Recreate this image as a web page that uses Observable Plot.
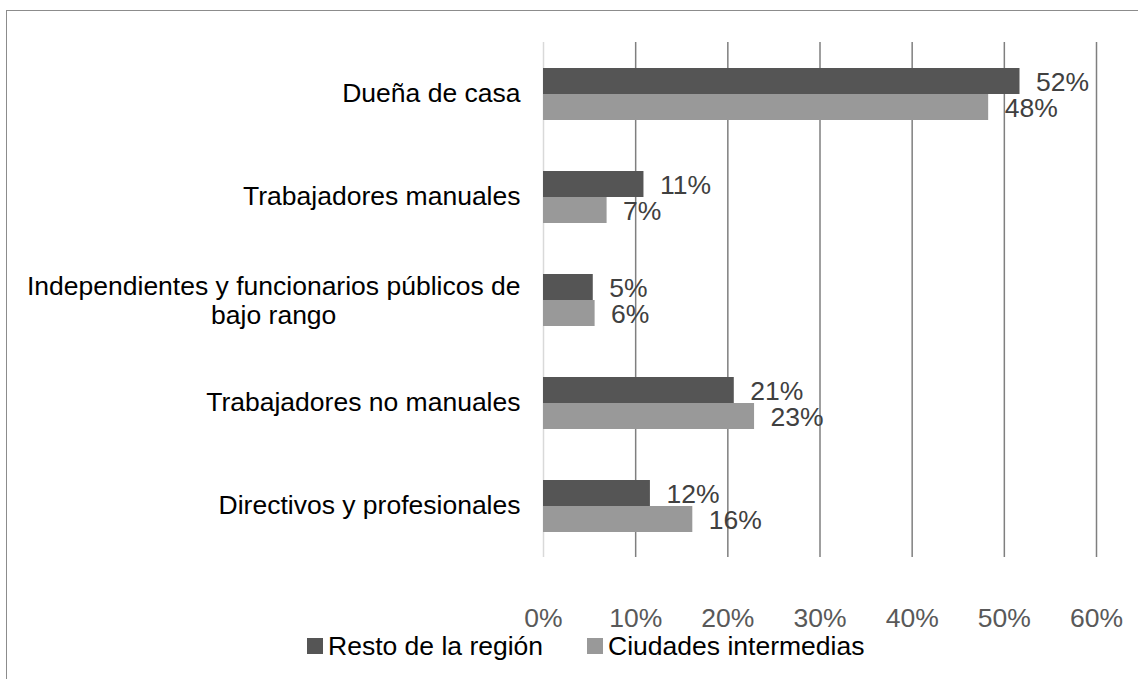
<!DOCTYPE html>
<html>
<head>
<meta charset="utf-8">
<script src="https://cdn.jsdelivr.net/npm/d3@7"></script>
<script src="https://cdn.jsdelivr.net/npm/@observablehq/plot@0.6"></script>
<style>
  html, body { margin: 0; padding: 0; background: #fff; }
  body { width: 1138px; height: 679px; overflow: hidden; position: relative; font-family: "Liberation Sans", Arial, sans-serif; }
  #frame { position: absolute; left: 6px; top: 10px; width: 1200px; height: 800px; border: 1.5px solid #8c8c8c; box-sizing: border-box; }
  #chart { position: absolute; left: 0; top: 0; }
  #legend { position: absolute; left: 307px; top: 633px; display: flex; font-size: 26.5px; line-height: 1; color: #000; }
  .item { display: flex; align-items: center; }
  .sw { width: 16px; height: 16px; margin-right: 5px; }
</style>
</head>
<body>
<div id="frame"></div>
<div id="chart"></div>
<div id="legend"></div>
<script>
const categories = [
  "Dueña de casa",
  "Trabajadores manuales",
  "Independientes y funcionarios públicos de\nbajo rango",
  "Trabajadores no manuales",
  "Directivos y profesionales"
];
const series = ["Resto de la región", "Ciudades intermedias"];
const resto = [0.517, 0.109, 0.054, 0.207, 0.116];
const ciudades = [0.483, 0.069, 0.056, 0.229, 0.162];
const colors = ["#555555", "#999999"];
const xTicks = [0, 0.1, 0.2, 0.3, 0.4, 0.5, 0.6];

const data = [];
categories.forEach((c, i) => {
  data.push({category: c, series: series[0], value: resto[i]});
  data.push({category: c, series: series[1], value: ciudades[i]});
});

const FS = 26.5;
const ctx = document.createElement("canvas").getContext("2d");
ctx.font = FS + "px 'Liberation Sans', Arial, sans-serif";
const multi = categories.filter(c => c.includes("\n"));
const single = categories.filter(c => !c.includes("\n"));
const multiW = multi.length ? Math.max(...multi[0].split("\n").map(s => ctx.measureText(s).width)) : 0;

const fmt = d3.format(".0%");

const chart = Plot.plot({
  width: 1138,
  height: 632,
  marginLeft: 543,
  marginRight: 42,
  marginTop: 40,
  marginBottom: 73,
  style: {fontFamily: "'Liberation Sans', Arial, sans-serif", fontSize: FS + "px", background: "transparent"},
  x: {domain: [0, 0.6], ticks: xTicks, tickFormat: fmt},
  fy: {domain: categories, paddingInner: 0, paddingOuter: 0, label: null},
  y: {domain: series, paddingInner: 0, paddingOuter: 0.94, axis: null},
  color: {domain: series, range: colors},
  marks: [
    Plot.ruleX(xTicks.slice(1), {x: d => d, stroke: "#7f7f7f", strokeWidth: 1.5, strokeOpacity: 1}),
    Plot.ruleX([0], {stroke: "#d9d9d9", strokeWidth: 1.5}),
    Plot.barX(data, {x: "value", y: "series", fy: "category", fill: "series"}),
    Plot.text(data, {x: "value", y: "series", fy: "category", text: d => fmt(d.value), textAnchor: "start", dx: 16, dy: 1, fill: "#404040", fontSize: FS}),
    Plot.axisX({ticks: xTicks, tickFormat: fmt, tickSize: 0, tickPadding: 51, fill: "#595959", label: null, fontSize: FS}),
    Plot.axisFy({ticks: single, anchor: "left", tickSize: 0, tickPadding: 23, fill: "#000", label: null, fontSize: FS}),
    Plot.axisFy({ticks: multi, anchor: "left", tickSize: 0, tickPadding: 23, dx: -multiW / 2, textAnchor: "middle", lineHeight: 1.12, fill: "#000", label: null, fontSize: FS})
  ]
});
document.getElementById("chart").appendChild(chart);

const legend = document.getElementById("legend");
series.forEach((s, i) => {
  const it = document.createElement("div");
  it.className = "item";
  it.style.marginRight = i === 0 ? "44px" : "0";
  const sw = document.createElement("div");
  sw.className = "sw";
  sw.style.background = colors[i];
  const t = document.createElement("span");
  t.textContent = s;
  it.appendChild(sw); it.appendChild(t);
  legend.appendChild(it);
});
</script>
</body>
</html>
